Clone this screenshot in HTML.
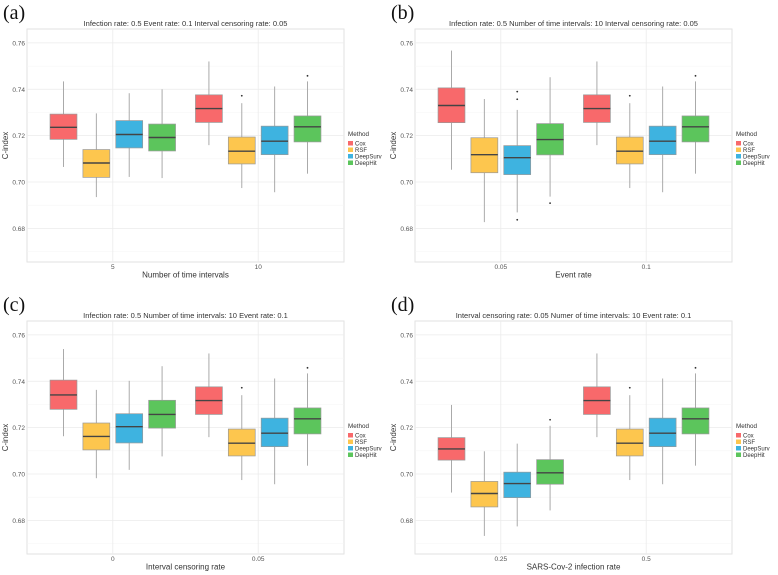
<!DOCTYPE html>
<html><head><meta charset="utf-8">
<style>
body{margin:0;background:#fff;}
svg{display:block;font-family:"Liberation Sans",sans-serif;}
</style></head>
<body>
<svg id="fig" width="778" height="575" viewBox="0 0 778 575" xmlns="http://www.w3.org/2000/svg"></svg>
<script>
// Data: each box = [whiskerHigh, q3, median, q1, whiskerLow]
const methods = ["Cox","RSF","DeepSurv","DeepHit"];
const colors = ["#f8696b","#fdc64e","#3eb3e0","#5cc55c"];
const yTicks = [0.68,0.70,0.72,0.74,0.76];
const yTickLabels = ["0.68","0.70","0.72","0.74","0.76"];
const refGroup = [[0.752,0.7376,0.7317,0.7257,0.7159],[0.734,0.7194,0.7133,0.7078,0.6974],[0.7412,0.7241,0.7176,0.7118,0.6956],[0.7434,0.7285,0.7238,0.7173,0.7036]];
const refOutliers = [[],[0.7372],[],[0.7458]];
const aCategories = ["5","10"];
const aValues = [[[0.7434,0.7293,0.7236,0.7184,0.7065],[0.7296,0.714,0.7082,0.702,0.6935],[0.7383,0.7265,0.7205,0.7147,0.7022],[0.740,0.725,0.7192,0.7134,0.7017]], refGroup];
const aOutliers = [[[],[],[],[]], refOutliers];
const bCategories = ["0.05","0.1"];
const bValues = [[[0.7567,0.7406,0.733,0.7256,0.7053],[0.7358,0.7191,0.7118,0.704,0.6827],[0.7311,0.7157,0.7105,0.7032,0.6869],[0.7452,0.7252,0.7183,0.7117,0.6937]], refGroup];
const bOutliers = [[[],[],[0.739,0.7357,0.6837],[0.6909]], refOutliers];
const cCategories = ["0","0.05"];
const cValues = [[[0.7539,0.7405,0.7341,0.7279,0.7163],[0.7363,0.722,0.7162,0.7104,0.6982],[0.7402,0.726,0.7204,0.7134,0.7018],[0.7465,0.7318,0.7257,0.7198,0.7076]], refGroup];
const cOutliers = [[[],[],[],[]], refOutliers];
const dCategories = ["0.25","0.5"];
const dValues = [[[0.7298,0.7157,0.7108,0.706,0.692],[0.7098,0.6968,0.6916,0.6858,0.6733],[0.7131,0.7008,0.6959,0.6898,0.6774],[0.7208,0.7062,0.7005,0.6956,0.6843]], refGroup];
const dOutliers = [[[],[],[],[0.7234]], refOutliers];

const panels = [
 {id:"a",ox:0,oy:0,title:"Infection rate: 0.5 Event rate: 0.1 Interval censoring rate: 0.05",xlab:"Number of time intervals",cats:aCategories,vals:aValues,outs:aOutliers},
 {id:"b",ox:388,oy:0,title:"Infection rate: 0.5 Number of time intervals: 10 Interval censoring rate: 0.05",xlab:"Event rate",cats:bCategories,vals:bValues,outs:bOutliers},
 {id:"c",ox:0,oy:292,title:"Infection rate: 0.5 Number of time intervals: 10 Event rate: 0.1",xlab:"Interval censoring rate",cats:cCategories,vals:cValues,outs:cOutliers},
 {id:"d",ox:388,oy:292,title:"Interval censoring rate: 0.05 Numer of time intervals: 10 Event rate: 0.1",xlab:"SARS-Cov-2 infection rate",cats:dCategories,vals:dValues,outs:dOutliers}
];
const NS="http://www.w3.org/2000/svg";
const svg=document.getElementById("fig");
function mk(tag,attrs,parent){const e=document.createElementNS(NS,tag);for(const k in attrs)e.setAttribute(k,attrs[k]);(parent||svg).appendChild(e);return e;}
const offsets=[-0.339,-0.113,0.113,0.339], bw=0.185;
panels.forEach(p=>{
  const g=mk("g",{transform:`translate(${p.ox},${p.oy})`});
  
  
  const X0=27,X1=344,Y0=29,Y1=262;
  const ymin=0.6655,ymax=0.766;
  const y=v=>Y1-(v-ymin)/(ymax-ymin)*(Y1-Y0);
  const x=v=>X0+(v-0.41)/(2.18)*(X1-X0);
  const lab=mk("text",{x:3,y:19,"font-family":"Liberation Serif,serif","font-size":20,fill:"#111"},g);lab.textContent="("+p.id+")";
  
  
  const t=mk("text",{x:(X0+X1)/2,y:26,"text-anchor":"middle","font-size":7.5,fill:"#333"},g);t.textContent=p.title;
  
  
  mk("rect",{x:X0,y:Y0,width:X1-X0,height:Y1-Y0,fill:"#fff",stroke:"#e2e2e2","stroke-width":1},g);
  for(let v=0.67;v<0.765;v+=0.01){
    const major=Math.abs(Math.round(v*100)%2)===0;
    mk("line",{x1:X0,x2:X1,y1:y(v),y2:y(v),stroke:major?"#ebebeb":"#f4f4f4","stroke-width":major?0.8:0.5},g);
  }
  yTicks.forEach((v,i)=>{
    const tl=mk("text",{x:X0-2,y:y(v)+2.5,"text-anchor":"end","font-size":6.5,fill:"#555"},g);tl.textContent=yTickLabels[i];
    
    
  });
  p.cats.forEach((c,i)=>{
    mk("line",{x1:x(i+1),x2:x(i+1),y1:Y0,y2:Y1,stroke:"#ebebeb","stroke-width":0.8},g);
    const xl=mk("text",{x:x(i+1),y:Y1+7,"text-anchor":"middle","font-size":6.5,fill:"#555"},g);xl.textContent=c;
    
    
  });
  const xt=mk("text",{x:(X0+X1)/2,y:Y1+15.5,"text-anchor":"middle","font-size":8,fill:"#333"},g);xt.textContent=p.xlab;
  
  
  const yt=mk("text",{x:0,y:0,"text-anchor":"middle","font-size":8,fill:"#333",transform:`translate(8,${(Y0+Y1)/2}) rotate(-90)`},g);yt.textContent="C-index";
  
  
  p.vals.forEach((grp,gi)=>{
    grp.forEach((b,mi)=>{
      const cx=x(gi+1+offsets[mi]);
      const hw=(x(1+bw)-x(1))/2;
      const bx=mk("g",{},g);
      
      
      mk("line",{x1:cx,x2:cx,y1:y(b[0]),y2:y(b[4]),stroke:"#aaa","stroke-width":1},bx);
      mk("rect",{x:cx-hw,y:y(b[1]),width:2*hw,height:y(b[3])-y(b[1]),fill:colors[mi],stroke:"#999","stroke-width":0.7},bx);
      mk("line",{x1:cx-hw,x2:cx+hw,y1:y(b[2]),y2:y(b[2]),stroke:"#444","stroke-width":1.4},bx);
      p.outs[gi][mi].forEach(o=>{mk("circle",{cx:cx,cy:y(o),r:0.9,fill:"#333"},bx);});
    });
  });
  const lg=mk("g",{},g);
  
  
  const lt=mk("text",{x:348,y:136,"font-size":6.3,fill:"#333"},lg);lt.textContent="Method";
  methods.forEach((m,i)=>{
    const ey=141+i*6.5;
    const e=mk("g",{},lg);
    
    
    mk("rect",{x:348,y:ey,width:5,height:4.5,fill:colors[i]},e);
    const tx=mk("text",{x:355,y:ey+4.5,"font-size":6,fill:"#333"},e);tx.textContent=m;
  });
});
</script>
</body></html>
